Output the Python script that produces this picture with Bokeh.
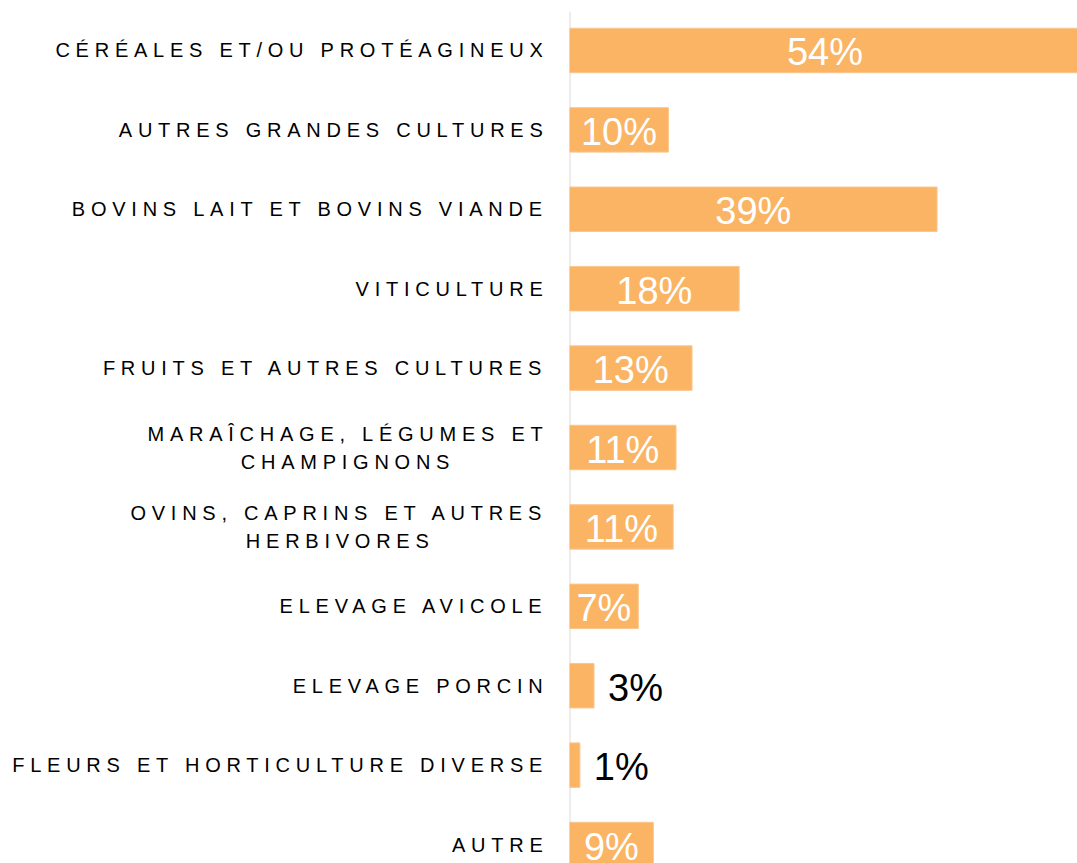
import glob
from bokeh.plotting import figure
from bokeh.models import Range1d, ColumnDataSource, Span, InlineStyleSheet
from bokeh.layouts import row
from bokeh.embed import file_html
from bokeh.resources import INLINE
from bokeh.core.properties import value

# ---------------- data ----------------
categories = [
    "CÉRÉALES ET/OU PROTÉAGINEUX",
    "AUTRES GRANDES CULTURES",
    "BOVINS LAIT ET BOVINS VIANDE",
    "VITICULTURE",
    "FRUITS ET AUTRES CULTURES",
    "MARAÎCHAGE, LÉGUMES ET\nCHAMPIGNONS",
    "OVINS, CAPRINS ET AUTRES\nHERBIVORES",
    "ELEVAGE AVICOLE",
    "ELEVAGE PORCIN",
    "FLEURS ET HORTICULTURE DIVERSE",
    "AUTRE",
]
values = [54.2, 10.5, 39.0, 18.0, 13.0, 11.3, 11.0, 7.3, 2.6, 1.1, 8.9]
value_labels = ["54%", "10%", "39%", "18%", "13%", "11%", "11%", "7%", "3%", "1%", "9%"]

# ---------------- style ----------------
LABEL_FONT = "Liberation Sans"
LABEL_SIZE = 20
LETTER_SPACING = 5.75
LABEL_PAD = 21
LINE_HEIGHT = 28
PCT_SIZE = 38
BAR_COLOR = "#FAB464"
BAR_EDGE = "#FBC68C"
AXIS_COLOR = "#DCDCDC"

LEFT_W, RIGHT_W, H = 569, 508, 863
TOP_BORDER = 11
Y_TOP, Y_BOTTOM = -0.491, 10.239
X_MAX = 53.9

try:
    from PIL import ImageFont
    _paths = glob.glob("/usr/share/fonts/**/LiberationSans-Regular.ttf", recursive=True)
    _font = ImageFont.truetype(_paths[0], LABEL_SIZE)

    def text_width(s):
        return _font.getlength(s)
except Exception:
    def text_width(s):
        return 0.64 * LABEL_SIZE * len(s)

y_range = Range1d(start=Y_BOTTOM, end=Y_TOP)
ys = list(range(len(categories)))

# ---------------- left (labels) ----------------
left = figure(width=LEFT_W, height=H, x_range=Range1d(0, LEFT_W), y_range=y_range,
              output_backend="svg", toolbar_location=None,
              x_axis_type=None, y_axis_type=None,
              min_border_left=0, min_border_right=0, min_border_bottom=0,
              min_border_top=TOP_BORDER)
left.grid.visible = False
left.outline_line_color = None
left.background_fill_color = "white"
left.border_fill_color = "white"
left.stylesheets = [InlineStyleSheet(css=":host { letter-spacing: %spx; }" % LETTER_SPACING)]

k = LETTER_SPACING
r_x, r_y, r_t, r_xo, r_yo = [], [], [], [], []
c_x, c_y, c_t, c_xo, c_yo = [], [], [], [], []
for i, cat in enumerate(categories):
    lines = cat.split("\n")
    nl = len(lines)
    line1 = lines[0]
    n1 = len(line1)
    x1off = -(LABEL_PAD + n1 * k)
    for j, line in enumerate(lines):
        yoff = (j - (nl - 1) / 2) * LINE_HEIGHT
        if j == 0:
            r_x.append(LEFT_W); r_y.append(ys[i]); r_t.append(line)
            r_xo.append(x1off); r_yo.append(yoff)
        else:
            m1 = text_width(line1)
            n2 = len(line)
            x2off = x1off - m1 / 2 + (n1 - 1) * k / 2 - (n2 - 1) * k / 2
            c_x.append(LEFT_W); c_y.append(ys[i]); c_t.append(line)
            c_xo.append(x2off); c_yo.append(yoff)

left.text(x="x", y="y", text="t", x_offset="xo", y_offset="yo",
          source=ColumnDataSource(dict(x=r_x, y=r_y, t=r_t, xo=r_xo, yo=r_yo)),
          text_font=value(LABEL_FONT), text_font_size="%dpx" % LABEL_SIZE,
          text_color="#000000", text_align="right", text_baseline="middle")
if c_t:
    left.text(x="x", y="y", text="t", x_offset="xo", y_offset="yo",
              source=ColumnDataSource(dict(x=c_x, y=c_y, t=c_t, xo=c_xo, yo=c_yo)),
              text_font=value(LABEL_FONT), text_font_size="%dpx" % LABEL_SIZE,
              text_color="#000000", text_align="center", text_baseline="middle")

# ---------------- right (bars) ----------------
p = figure(width=RIGHT_W, height=H, x_range=Range1d(0, X_MAX), y_range=y_range,
           output_backend="svg", toolbar_location=None,
           x_axis_type=None, y_axis_type=None,
           min_border_left=0, min_border_right=0, min_border_bottom=0,
           min_border_top=TOP_BORDER)
p.grid.visible = False
p.outline_line_color = None
p.background_fill_color = "white"
p.border_fill_color = "white"

p.add_layout(Span(location=0, dimension="height", line_color=AXIS_COLOR,
                  line_width=2, level="underlay"))

bar_src = ColumnDataSource(dict(y=ys, v=values))
p.hbar(y="y", left=0, right="v", height=0.56, source=bar_src,
       fill_color=BAR_COLOR, line_color=BAR_EDGE, line_width=1)

inside = [v >= 5 for v in values]
in_src = ColumnDataSource(dict(
    x=[v / 2 for v, ok in zip(values, inside) if ok],
    y=[y for y, ok in zip(ys, inside) if ok],
    t=[t for t, ok in zip(value_labels, inside) if ok]))
out_src = ColumnDataSource(dict(
    x=[v for v, ok in zip(values, inside) if not ok],
    y=[y for y, ok in zip(ys, inside) if not ok],
    t=[t for t, ok in zip(value_labels, inside) if not ok]))

p.text(x="x", y="y", text="t", source=in_src,
       text_font=value(LABEL_FONT), text_font_size="%dpx" % PCT_SIZE,
       text_color="white", text_align="center", text_baseline="middle", y_offset=2)
p.text(x="x", y="y", text="t", source=out_src, x_offset=14,
       text_font=value(LABEL_FONT), text_font_size="%dpx" % PCT_SIZE,
       text_color="#000000", text_align="left", text_baseline="middle", y_offset=2)

layout = row(left, p, spacing=0)

open("out.html", "w").write(file_html(layout, INLINE))
